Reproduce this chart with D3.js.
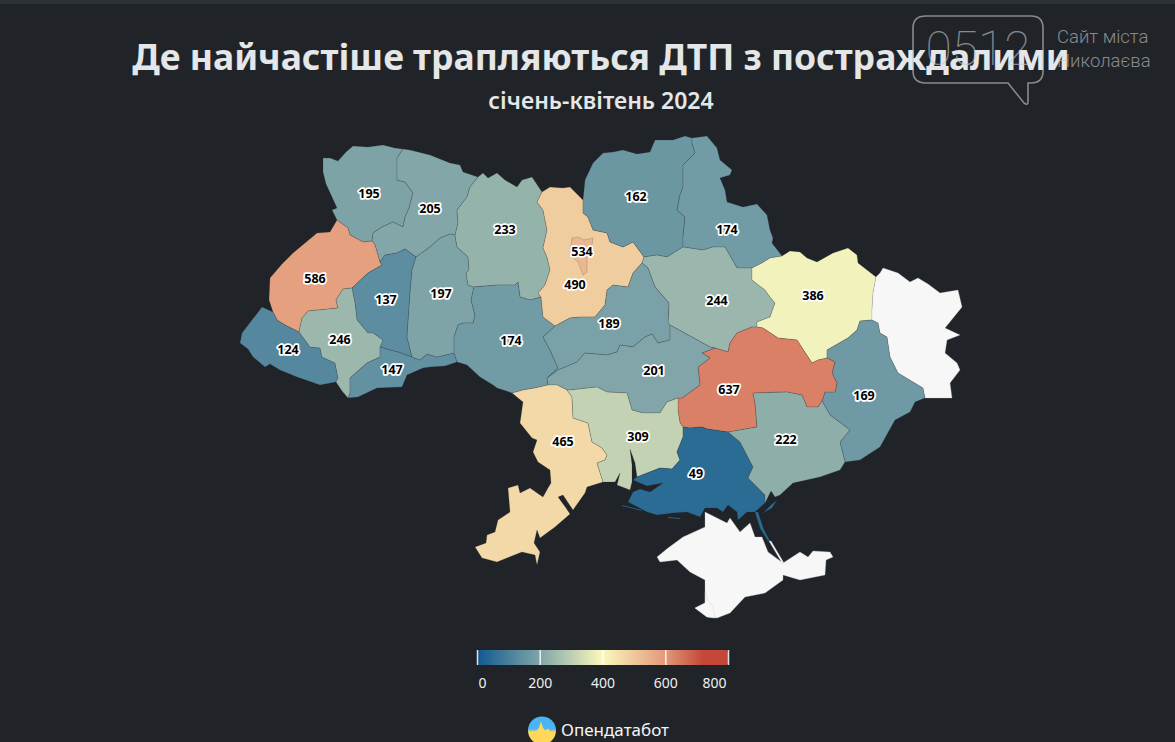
<!DOCTYPE html>
<html lang="uk">
<head>
<meta charset="utf-8">
<title>ДТП з постраждалими</title>
<script src="https://cdn.jsdelivr.net/npm/d3@7"></script>
<style>
  html, body { margin: 0; padding: 0; background: #202429; overflow: hidden; }
  svg { display: block; font-family: "Noto Sans", sans-serif; }
  .label { font-size: 12.5px; font-weight: 700; fill: #000; stroke: #fff; stroke-width: 3.5px; paint-order: stroke; stroke-linejoin: round; text-anchor: middle; dominant-baseline: central; }
  .legend-axis text { font-size: 14px; fill: #eceff1; font-family: "Noto Sans", sans-serif; }
  .legend-axis line { stroke: #fff; stroke-opacity: .85; stroke-width: 1.5; }
</style>
</head>
<body>
<svg id="chart" width="1175" height="742"></svg>
<script>
// values per region, null = no data
const regionNames = ["volyn", "rivne", "lviv", "ternopil", "zakarpattia", "ivanoFrankivsk", "chernivtsi", "khmelnytskyi", "zhytomyr", "vinnytsia", "kyivOblast", "kyivCity", "chernihiv", "sumy", "poltava", "kharkiv", "luhansk", "donetsk", "dnipro", "cherkasy", "kirovohrad", "odesa", "mykolaiv", "kherson", "zaporizhzhia", "crimea", "sevastopol"]
const regionValues = [195, 205, 586, 137, 124, 246, 147, 197, 233, 174, 490, 534, 162, 174, 244, 386, null, 169, 637, 189, 201, 465, 309, 49, 222, null, null]

// label anchors in map units, same order as regionNames
const labelAnchors = [[369, 193], [430, 208], [315, 278], [386, 299], [288, 349], [340, 339], [392, 369], [441, 293], [505, 229], [511, 340], [575, 284], [582, 251], [636, 196], [727, 229], [717, 300], [813, 295], null, [864, 395], [729, 389], [609, 323], [654, 370], [563, 441], [638, 436], [696, 473], [786, 439], null, null]

const legendDomain = [0, 200, 400, 600, 720, 800]
const legendColors = ["#10598f", "#80a5a8", "#fbf8bd", "#e2997a", "#c4473a", "#c4473a"]
const legendTicks = [0, 200, 400, 600, 800]
const noDataColor = "#f7f7f7"

const titleText = "Де найчастіше трапляються ДТП з постраждалими"
const subtitleText = "січень-квітень 2024"
const logoText = "Опендатабот"

// map outlines, traced in map units. shared borders live in one arc so neighbours line up
const arcs = {
  volynNorth: [[337,220],[332,210],[337,208],[332,197],[326,184],[323,172],[323,158],[330,158],[338,161],[346,152],[353,146],[368,147],[383,145],[395,148],[403,149]],
  volynRivne: [[403,149],[397,158],[397,180],[405,182],[413,193],[409,208],[405,217],[403,227],[393,222],[382,227],[373,233],[372,241]],
  volynLviv: [[372,241],[363,242],[350,235],[348,228],[337,220]],
  rivneNorth: [[403,149],[410,150],[430,155],[450,163],[460,165],[463,172],[478,177]],
  rivneZhytomyr: [[478,177],[470,187],[467,197],[457,210],[458,223],[455,235]],
  rivneKhmelnytskyi: [[455,235],[450,234],[440,238],[430,247],[416,257]],
  rivneTernopil: [[416,257],[405,249],[397,253],[385,255],[380,262]],
  rivneLviv: [[380,262],[375,245],[372,241]],
  lvivTernopil: [[380,262],[382,265],[368,273],[352,288]],
  lvivFrankivsk: [[352,288],[343,289],[336,300],[338,308],[308,311],[302,318],[299,332]],
  lvivZakarpattia: [[299,332],[285,325],[277,320],[273,312]],
  lvivWest: [[273,312],[269,300],[270,278],[282,264],[293,253],[305,243],[317,233],[330,232],[337,220]],
  ternopilFrankivsk: [[352,288],[355,303],[357,320],[368,333],[373,333],[383,340],[380,347]],
  ternopilChernivtsi: [[380,347],[390,350],[398,352],[412,357]],
  ternopilKhmelnytskyi: [[412,357],[407,337],[410,293],[412,270],[416,257]],
  zakarpattiaSouth: [[273,312],[262,307],[252,320],[242,333],[240,343],[248,349],[253,357],[265,367],[270,364],[280,370],[297,377],[320,385],[336,382]],
  zakarpattiaFrankivsk: [[336,382],[338,378],[335,363],[322,357],[320,348],[310,347],[299,332]],
  frankivskSouth: [[336,382],[342,391],[348,398]],
  frankivskChernivtsi: [[348,398],[350,393],[350,378],[367,363],[380,357],[380,347]],
  chernivtsiSouth: [[348,398],[358,397],[377,388],[402,387],[407,375],[423,368],[430,367],[445,366],[457,362],[454,353]],
  chernivtsiKhmelnytskyi: [[454,353],[437,357],[427,354],[420,360],[412,357]],
  khmelnytskyiVinnytsia: [[454,353],[454,337],[458,325],[463,323],[473,323],[475,315],[471,300],[474,287]],
  khmelnytskyiZhytomyr: [[474,287],[468,285],[466,273],[469,270],[468,257],[457,247],[455,235]],
  zhytomyrNorth: [[478,177],[483,173],[488,178],[497,173],[505,180],[517,187],[522,180],[532,177],[542,192]],
  zhytomyrKyiv: [[542,192],[537,202],[543,210],[547,230],[543,248],[547,257],[550,270],[545,285],[538,293],[541,297]],
  zhytomyrVinnytsia: [[541,297],[530,300],[520,297],[518,282],[515,285],[497,285],[474,287]],
  kyivNorth: [[542,192],[550,187],[563,188],[570,187],[583,200]],
  kyivChernihiv: [[583,200],[583,213],[588,217],[593,230],[607,233],[610,242],[623,247],[633,242],[644,257]],
  kyivPoltava: [[644,257],[642,263]],
  kyivCherkasy: [[642,263],[633,273],[628,287],[613,285],[607,290],[605,305],[595,317],[580,317],[570,318],[555,326]],
  kyivVinnytsia: [[555,326],[543,317],[541,297]],
  vinnytsiaCherkasy: [[555,326],[543,337],[550,350],[558,368],[547,378]],
  vinnytsiaKirovohrad: [[547,378],[548,385]],
  vinnytsiaOdesa: [[548,385],[535,388],[523,390],[512,393]],
  vinnytsiaSouth: [[512,393],[497,388],[493,385],[480,377],[467,365],[457,362],[454,353]],
  cherkasyKirovohrad: [[547,378],[558,370],[577,362],[585,353],[607,355],[617,352],[620,345],[633,347],[645,337],[652,334],[658,343],[670,340],[670,325]],
  cherkasyPoltava: [[670,325],[668,323],[669,303],[655,287],[648,268],[642,263]],
  chernihivOuter: [[583,200],[585,180],[593,163],[603,153],[613,152],[623,150],[637,154],[650,152],[655,140],[673,140],[685,136],[692,138]],
  chernihivSumy: [[692,138],[692,143],[695,153],[683,165],[683,187],[680,195],[677,210],[685,217],[683,237],[683,247]],
  chernihivPoltava: [[683,247],[667,257],[657,255],[644,257]],
  sumyOuter: [[692,138],[707,136],[717,148],[720,160],[732,170],[730,175],[720,178],[725,190],[727,202],[743,207],[757,204],[767,215],[770,230],[773,238],[772,243],[782,256]],
  sumyKharkiv: [[782,256],[770,258],[762,263],[752,268]],
  sumyPoltava: [[752,268],[737,268],[725,247],[713,247],[703,250],[683,247]],
  poltavaKharkiv: [[752,268],[752,280],[765,290],[770,297],[775,303],[770,317],[757,322],[757,327]],
  poltavaDnipro: [[757,327],[752,327],[737,333],[730,343],[728,352],[715,348]],
  poltavaKirovohrad: [[715,348],[710,347],[692,337],[670,325]],
  kharkivNorth: [[782,256],[790,251],[800,252],[807,258],[817,262],[833,253],[848,248],[857,255],[858,263],[876,277]],
  kharkivLuhansk: [[876,277],[873,293],[872,310],[872,320]],
  kharkivDonetsk: [[872,320],[860,321],[857,330],[848,338],[827,350],[827,358]],
  kharkivDnipro: [[827,358],[818,360],[812,363],[810,360],[797,340],[778,338],[763,328],[757,327]],
  luhanskOuter: [[876,277],[880,273],[883,268],[898,273],[910,282],[918,278],[928,284],[940,293],[958,290],[962,307],[945,328],[960,335],[947,340],[945,353],[957,363],[960,370],[950,383],[952,398],[925,398]],
  luhanskDonetsk: [[925,398],[923,388],[898,373],[890,357],[887,337],[880,333],[878,323],[872,320]],
  donetskDnipro: [[827,358],[835,362],[832,373],[837,383],[835,392],[825,392],[822,401]],
  donetskZaporizhzhia: [[822,401],[830,415],[850,430],[840,442],[845,462]],
  donetskCoast: [[845,462],[860,460],[880,447],[895,420],[910,412],[915,402],[925,398]],
  dniproZaporizhzhia: [[822,401],[818,407],[807,407],[802,395],[787,392],[753,393],[755,403],[757,427],[728,432]],
  dniproKherson: [[728,432],[707,429],[702,427],[690,428],[683,427]],
  dniproMykolaiv: [[683,427],[680,423],[678,410],[678,398]],
  dniproKirovohrad: [[678,398],[682,398],[700,385],[698,367],[710,358],[702,353],[715,348]],
  kirovohradMykolaiv: [[678,398],[667,402],[660,413],[643,413],[632,410],[627,393],[607,392],[597,387],[570,390],[567,390]],
  kirovohradOdesa: [[567,390],[557,385],[548,385]],
  odesaMykolaiv: [[567,390],[572,397],[573,418],[588,423],[592,442],[602,448],[607,455],[605,460],[597,463],[603,482]],
  odesaOuter: [[603,482],[587,487],[585,493],[573,510],[563,495],[558,497],[566,508],[570,514],[555,527],[540,538],[537,530],[534,543],[540,552],[537,565],[535,555],[522,552],[497,562],[482,558],[475,547],[486,543],[487,535],[495,532],[498,520],[510,512],[508,488],[518,485],[520,493],[530,488],[540,495],[543,497],[548,488],[551,483],[550,470],[538,462],[533,452],[537,440],[532,438],[520,423],[523,402],[512,393]],
  mykolaivCoast: [[603,482],[615,482],[620,473],[617,485],[630,490],[632,482],[632,465],[630,449],[635,463],[637,477]],
  mykolaivKherson: [[637,477],[660,468],[672,469],[680,460],[677,452],[683,437],[683,427]],
  khersonCoast: [[637,477],[633,480],[647,486],[663,483],[650,492],[640,489],[633,492],[628,502],[647,512],[657,515],[673,513],[687,512],[700,517],[705,508],[717,508],[723,512],[728,505],[737,512],[738,520],[747,512],[755,512],[765,503]],
  zaporizhzhiaKherson: [[765,503],[765,495],[748,478],[753,467],[740,442],[728,432]],
  zaporizhzhiaCoast: [[765,503],[771,491],[775,497],[780,495],[793,483],[820,477],[840,470],[845,462]]
}

// a leading "-" walks the arc backwards
const regionRings = {
  volyn: [["volynNorth", "volynRivne", "volynLviv"]],
  rivne: [["rivneNorth", "rivneZhytomyr", "rivneKhmelnytskyi", "rivneTernopil", "rivneLviv", "-volynRivne"]],
  lviv: [["-volynLviv", "-rivneLviv", "lvivTernopil", "lvivFrankivsk", "lvivZakarpattia", "lvivWest"]],
  ternopil: [["-rivneTernopil", "ternopilKhmelnytskyi".replace(/^/, "-"), "-ternopilChernivtsi", "-ternopilFrankivsk", "-lvivTernopil"]],
  zakarpattia: [["zakarpattiaSouth", "zakarpattiaFrankivsk", "lvivZakarpattia"]],
  ivanoFrankivsk: [["-lvivFrankivsk", "ternopilFrankivsk", "-frankivskChernivtsi", "-frankivskSouth", "zakarpattiaFrankivsk"]],
  chernivtsi: [["chernivtsiSouth", "chernivtsiKhmelnytskyi", "-ternopilChernivtsi", "-frankivskChernivtsi"]],
  khmelnytskyi: [["-rivneKhmelnytskyi", "-khmelnytskyiZhytomyr", "-khmelnytskyiVinnytsia", "chernivtsiKhmelnytskyi", "ternopilKhmelnytskyi"]],
  zhytomyr: [["zhytomyrNorth", "zhytomyrKyiv", "zhytomyrVinnytsia", "khmelnytskyiZhytomyr", "-rivneZhytomyr"]],
  vinnytsia: [["-zhytomyrVinnytsia", "-kyivVinnytsia", "vinnytsiaCherkasy", "vinnytsiaKirovohrad", "vinnytsiaOdesa", "vinnytsiaSouth", "khmelnytskyiVinnytsia"]],
  kyivOblast: [["kyivNorth", "kyivChernihiv", "kyivPoltava", "kyivCherkasy", "kyivVinnytsia", "-zhytomyrKyiv"]],
  kyivCity: [[[572,238],[578,237],[584,240],[593,238],[592,245],[587,258],[587,272],[583,275],[578,262],[570,255],[571,245],[572,238]]],
  chernihiv: [["chernihivOuter", "chernihivSumy", "chernihivPoltava", "-kyivChernihiv"]],
  sumy: [["sumyOuter", "sumyKharkiv", "sumyPoltava", "-chernihivSumy"]],
  poltava: [["-chernihivPoltava", "-sumyPoltava", "poltavaKharkiv", "poltavaDnipro", "poltavaKirovohrad", "cherkasyPoltava", "-kyivPoltava"]],
  kharkiv: [["kharkivNorth", "kharkivLuhansk", "kharkivDonetsk", "kharkivDnipro", "-poltavaKharkiv", "-sumyKharkiv"]],
  luhansk: [["luhanskOuter", "luhanskDonetsk", "-kharkivLuhansk"]],
  donetsk: [["-kharkivDonetsk", "-luhanskDonetsk", "-donetskCoast", "-donetskZaporizhzhia", "-donetskDnipro"]],
  dnipro: [["-poltavaDnipro", "-kharkivDnipro", "donetskDnipro", "dniproZaporizhzhia", "dniproKherson", "dniproMykolaiv", "dniproKirovohrad"]],
  cherkasy: [["-kyivCherkasy", "-cherkasyPoltava", "-cherkasyKirovohrad", "-vinnytsiaCherkasy"]],
  kirovohrad: [["cherkasyKirovohrad", "-poltavaKirovohrad", "-dniproKirovohrad", "kirovohradMykolaiv", "kirovohradOdesa", "-vinnytsiaKirovohrad"]],
  odesa: [["odesaMykolaiv", "odesaOuter", "-vinnytsiaOdesa", "-kirovohradOdesa"]],
  mykolaiv: [["-kirovohradMykolaiv", "-dniproMykolaiv", "-mykolaivKherson", "-mykolaivCoast", "-odesaMykolaiv"]],
  kherson: [["-dniproKherson", "zaporizhzhiaKherson".replace(/^/, "-"), "-khersonCoast", "mykolaivKherson"],
    [[622,505],[642,510],[642,511],[622,506],[622,505]], [[668,517],[680,518],[680,519],[668,518],[668,517]],
    [[755,512],[758,512],[764,530],[770,541],[768,541],[760,528],[755,512]], [[763,513],[771,505],[777,500],[772,508],[763,513]]],
  zaporizhzhia: [["dniproZaporizhzhia".replace(/^/, "-"), "donetskZaporizhzhia", "-zaporizhzhiaCoast", "zaporizhzhiaKherson"]],
  crimea: [[[705,512],[717,518],[727,523],[730,518],[740,532],[750,523],[755,537],[762,537],[768,552],[783,563],[800,552],[808,557],[813,551],[830,552],[833,557],[826,560],[825,575],[800,580],[783,575],[783,580],[765,593],[745,597],[730,613],[717,618],[707,617],[695,608],[705,603],[705,580],[690,572],[677,560],[660,562],[657,557],[668,548],[683,537],[705,527],[705,512]],
    [[769,541],[771,541],[784,563],[782,563],[769,541]]],
  sevastopol: [[[705,592],[708,601],[713,606],[715,618],[707,617],[695,608],[705,603],[705,592]]]
}

const ringPoints = ring => ring.flatMap(part => {
  if (typeof part !== "string") return [part]
  const reversed = part.startsWith("-")
  const arc = arcs[reversed ? part.slice(1) : part]
  return reversed ? arc.slice().reverse() : arc
})

const features = regionNames.map((name, i) => ({
  type: "Feature",
  properties: { name, value: regionValues[i], anchor: labelAnchors[i] },
  geometry: {
    type: "MultiPolygon",
    coordinates: regionRings[name].map(ring => [ringPoints(ring)])
  }
}))

const svg = d3.select("#chart")

// thin lighter strip along the top of the screenshot
svg.append("rect").attr("width", 1175).attr("height", 4).attr("fill", "#2c3137")

svg.append("text")
  .attr("x", 601).attr("y", 70)
  .attr("text-anchor", "middle")
  .attr("font-size", 35.5).attr("font-weight", 700).attr("fill", "#e4e6e8")
  .text(titleText)

svg.append("text")
  .attr("x", 601).attr("y", 109)
  .attr("text-anchor", "middle")
  .attr("font-size", 23).attr("font-weight", 600).attr("fill", "#e4e6e8")
  .text(subtitleText)

const color = d3.scaleLinear().domain(legendDomain).range(legendColors)
const projection = d3.geoIdentity()
const path = d3.geoPath(projection)

const map = svg.append("g")
map.selectAll("path")
  .data(features)
  .join("path")
  .attr("d", path)
  .attr("fill", d => d.properties.value == null ? noDataColor : color(d.properties.value))
  .attr("stroke", d => d.properties.value == null ? "#bbb" : "#20242a")
  .attr("stroke-opacity", d => d.properties.value == null ? .5 : .3)
  .attr("stroke-width", .6)

map.selectAll("text")
  .data(features.filter(d => d.properties.value != null))
  .join("text")
  .attr("class", "label")
  .attr("transform", d => `translate(${projection(d.properties.anchor)})`)
  .text(d => d.properties.value)

// legend
const legendX = d3.scaleLinear().domain([0, 800]).range([477, 728])
const defs = svg.append("defs")
const gradient = defs.append("linearGradient").attr("id", "legend-gradient")
gradient.selectAll("stop")
  .data(legendDomain)
  .join("stop")
  .attr("offset", d => d / 800)
  .attr("stop-color", d => color(d))

svg.append("rect")
  .attr("x", 477).attr("y", 650)
  .attr("width", 251).attr("height", 15)
  .attr("rx", 2)
  .attr("fill", "url(#legend-gradient)")

const legendAxis = svg.append("g")
  .attr("class", "legend-axis")
  .attr("transform", "translate(0,665)")
  .call(d3.axisBottom(legendX).tickValues(legendTicks).tickSize(-15).tickPadding(13))
legendAxis.select(".domain").remove()
legendAxis.selectAll("text")
  .attr("dy", "0.71em")
  .attr("dx", d => d === 0 ? 5 : d === 800 ? -14 : 0)

// logo
const logoGradient = defs.append("linearGradient").attr("id", "logo-gradient").attr("x2", 0).attr("y2", 1)
logoGradient.append("stop").attr("offset", .45).attr("stop-color", "#4bb4f2")
logoGradient.append("stop").attr("offset", .55).attr("stop-color", "#ffd75a")
const logo = svg.append("g").attr("transform", "translate(542,730.5)")
logo.append("circle").attr("r", 14).attr("fill", "url(#logo-gradient)")
logo.append("path")
  .attr("d", "M-13,2 L-6,1 L-3,-3 L-1,-9 L1,-3 L3,0 L6,-2 L8,1 L13,2 L13,3 L-13,3 Z")
  .attr("fill", "#ffd75a")
svg.append("text")
  .attr("x", 561).attr("y", 736)
  .attr("font-size", 17).attr("fill", "#f4f5f6")
  .text(logoText)

// site watermark sits over the title
const mark = svg.append("g").attr("opacity", .62).attr("font-family", "Roboto, sans-serif")
mark.append("path")
  .attr("d", "M926,16 H1031 Q1043,16 1043,28 V71 Q1043,83 1031,83 H1028 V102 Q1028,106 1024,103 L1008,83 H926 Q913,83 913,71 V28 Q913,16 926,16 Z")
  .attr("fill", "none").attr("stroke", "#c8c8c8").attr("stroke-width", 1.6)
mark.append("text")
  .attr("x", 978).attr("y", 65).attr("text-anchor", "middle")
  .attr("font-size", 48).attr("font-weight", 100).attr("fill", "#c8c8c8")
  .text("0512")
mark.append("text")
  .attr("x", 1057).attr("y", 43)
  .attr("font-size", 18.5).attr("font-weight", 300).attr("fill", "#c8c8c8")
  .text("Сайт міста")
mark.append("text")
  .attr("x", 1057).attr("y", 67)
  .attr("font-size", 18.5).attr("font-weight", 300).attr("fill", "#c8c8c8")
  .text("Николаєва")
</script>
</body>
</html>
